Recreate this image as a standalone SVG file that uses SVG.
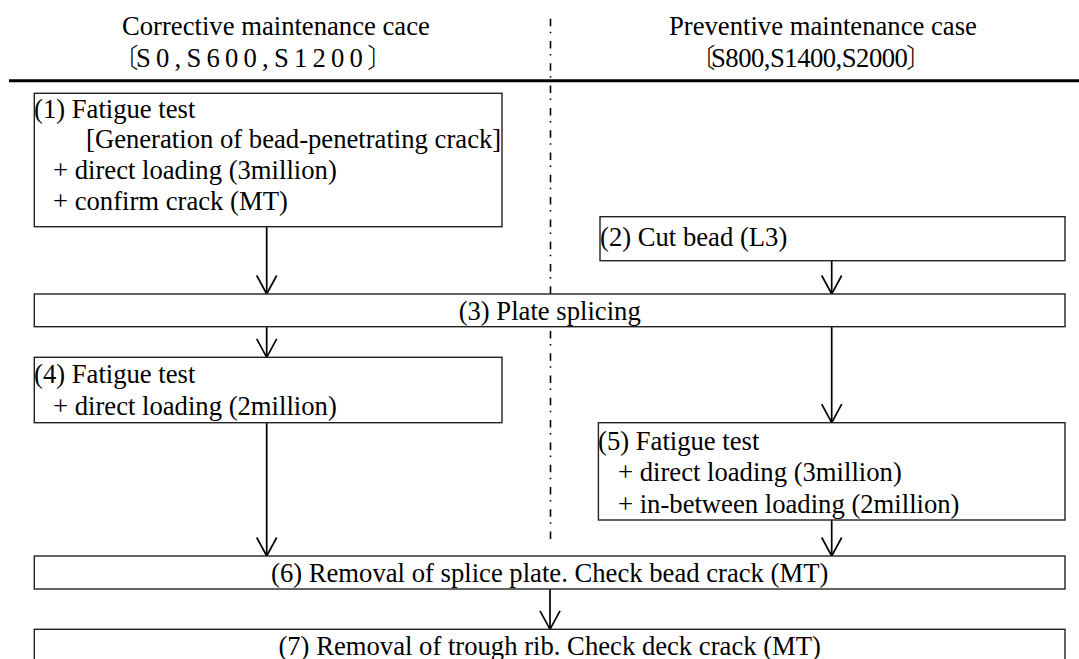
<svg xmlns="http://www.w3.org/2000/svg" width="1079" height="659" viewBox="0 0 1079 659">
<style>
text { font-family: "Liberation Serif", "Times New Roman", "Noto Sans CJK JP", serif; font-size: 26.67px; fill: #000; }
.cjk { font-family: "Noto Sans CJK JP", sans-serif; font-weight: 300; }
.mid { text-anchor: middle; }
.box { fill: #fff; stroke: #222; stroke-width: 1.4; }
.conn { stroke: #000; stroke-width: 1.7; fill: none; marker-end: url(#v); }
.rule { stroke: #000; stroke-width: 3; }
.axis { stroke: #000; stroke-width: 1.6; stroke-dasharray: 7.5 5.5 1.5 7.8; }
</style>
<defs>
<marker id="v" markerUnits="userSpaceOnUse" viewBox="-20 -12 22 24" refX="0" refY="0" markerWidth="22" markerHeight="24" orient="auto" overflow="visible">
<path d="M -18.5 -10 L 0 0 L -18.5 10" fill="none" stroke="#000" stroke-width="1.7"/>
</marker>
</defs>
<rect x="0" y="0" width="1079" height="659" fill="#fff"/>
<g id="headers">
<text x="122" y="35">Corrective maintenance cace</text>
<text y="66.7"><tspan class="cjk" x="112">〔</tspan><tspan x="136" letter-spacing="5.2">S0,S600,S1200</tspan><tspan class="cjk" x="367">〕</tspan></text>
<text x="669" y="35">Preventive maintenance case</text>
<text y="66.7"><tspan class="cjk" x="689">〔</tspan><tspan x="711" letter-spacing="-0.5">S800,S1400,S2000</tspan><tspan class="cjk" x="906">〕</tspan></text>
<line class="rule" x1="9" y1="80.8" x2="1079" y2="80.8"/>
<line class="axis" x1="550.5" y1="18.7" x2="550.5" y2="539.5"/>
</g>
<g id="connectors">
<line class="conn" x1="266.7" y1="226.7" x2="266.7" y2="294"/>
<line class="conn" x1="831.7" y1="260.7" x2="831.7" y2="294"/>
<line class="conn" x1="266.7" y1="326.7" x2="266.7" y2="357.3"/>
<line class="conn" x1="831.7" y1="326.7" x2="831.7" y2="422.7"/>
<line class="conn" x1="266.7" y1="422.7" x2="266.7" y2="556"/>
<line class="conn" x1="831.7" y1="520" x2="831.7" y2="556"/>
<line class="conn" x1="550" y1="589" x2="550" y2="629.3"/>
</g>
<g id="n1">
<rect class="box" x="34.3" y="93.3" width="467.7" height="133.4"/>
<text x="34" y="117.5">(1) Fatigue test</text>
<text x="86" y="148.3">[Generation of bead-penetrating crack]</text>
<text x="53" y="179">+ direct loading (3million)</text>
<text x="53" y="210">+ confirm crack (MT)</text>
</g>
<g id="n2">
<rect class="box" x="600" y="216.7" width="465" height="44"/>
<text x="600" y="246">(2) Cut bead (L3)</text>
</g>
<g id="n3">
<rect class="box" x="34.3" y="294" width="1030.7" height="32.7"/>
<text class="mid" x="549.7" y="319.5">(3) Plate splicing</text>
</g>
<g id="n4">
<rect class="box" x="34.3" y="357.3" width="467.7" height="65.4"/>
<text x="34" y="382.7">(4) Fatigue test</text>
<text x="53" y="414.5">+ direct loading (2million)</text>
</g>
<g id="n5">
<rect class="box" x="598.4" y="422.7" width="466.6" height="97.3"/>
<text x="598" y="449.7">(5) Fatigue test</text>
<text x="618" y="481">+ direct loading (3million)</text>
<text x="618" y="512.7">+ in-between loading (2million)</text>
</g>
<g id="n6">
<rect class="box" x="34.3" y="556" width="1030.7" height="33"/>
<text class="mid" x="549.7" y="581.7">(6) Removal of splice plate. Check bead crack (MT)</text>
</g>
<g id="n7">
<rect class="box" x="34.3" y="629.3" width="1030.7" height="40"/>
<text class="mid" x="549.7" y="655">(7) Removal of trough rib. Check deck crack (MT)</text>
</g>
</svg>
